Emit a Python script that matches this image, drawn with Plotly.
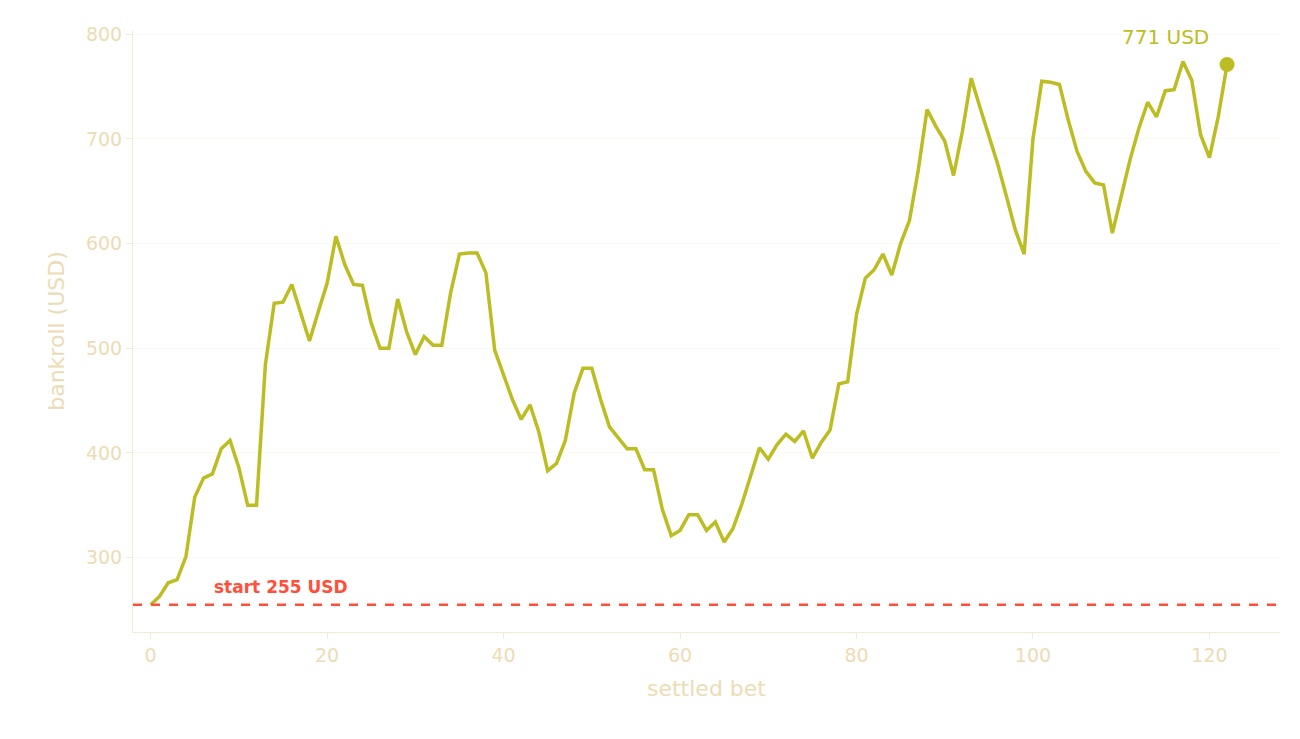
import plotly.graph_objects as go

bets = list(range(123))
bankroll = [255,263,276,279,301,358,376,380,404,412,386,350,350,484,543,544,561,535,507,535,
562,607,580,561,560,524,500,500,547,516,494,511,503,503,553,590,591,591,572,498,
475,451,432,446,420,383,390,412,457,481,481,451,425,414,404,404,384,384,346,321,
326,341,341,326,334,315,328,351,379,405,394,408,418,411,421,395,410,422,466,468,
532,567,575,590,570,600,622,670,728,712,698,665,707,758,730,702,676,645,613,590,
700,755,754,752,718,688,669,658,656,610,646,680,710,735,721,746,747,774,756,704,
682,721,771]
start = 255
final = bankroll[-1]

tan = "#ecdcb4"
line_c = "#bcbd22"
red = "#ff4f3a"

fig = go.Figure()
fig.add_trace(go.Scatter(x=bets, y=bankroll, mode="lines",
                         line=dict(color=line_c, width=3.5), showlegend=False))
fig.add_trace(go.Scatter(x=[bets[-1]], y=[final], mode="markers",
                         marker=dict(color=line_c, size=15), showlegend=False))
fig.add_hline(y=start, line=dict(color=red, width=2.5, dash="dash"))
fig.add_annotation(x=7, y=start, text="<b>start 255 USD</b>", showarrow=False,
                   xanchor="left", yanchor="bottom", yshift=6,
                   font=dict(color=red, size=17, family="DejaVu Sans"))
fig.add_annotation(x=bets[-1], y=final, text=f"{final} USD", showarrow=False,
                   xanchor="right", yanchor="bottom", xshift=-16, yshift=14,
                   font=dict(color=line_c, size=20, family="DejaVu Sans"))

axis_common = dict(showline=True, linecolor="#f3ead3", linewidth=1, ticks="outside",
                   tickcolor="#f3ead3", ticklen=6, tickfont=dict(color=tan, size=19),
                   zeroline=False)
fig.update_xaxes(range=[-2, 128], tickvals=[0,20,40,60,80,100,120], showgrid=False,
                 title=dict(text="settled bet", font=dict(color=tan, size=22)), **axis_common)
fig.update_yaxes(range=[229, 804], tickvals=[300,400,500,600,700,800], showgrid=True,
                 gridcolor="#fbf9f0", gridwidth=1,
                 title=dict(text="bankroll (USD)", font=dict(color=tan, size=22)), **axis_common)
fig.update_layout(width=1300, height=739, plot_bgcolor="white", paper_bgcolor="white",
                  margin=dict(l=125, r=28, t=22, b=115),
                  font=dict(family="DejaVu Sans"))
fig.write_html("out.html")
